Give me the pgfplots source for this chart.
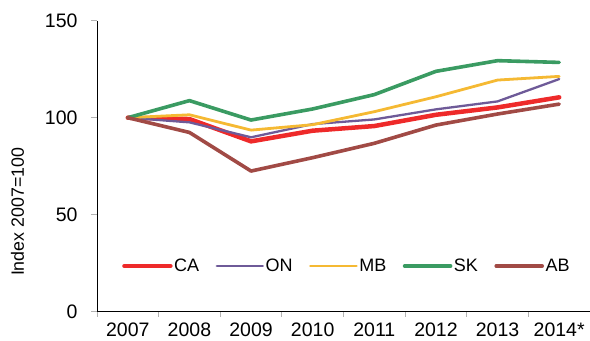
\documentclass[border=0pt]{standalone}
\usepackage{fontspec}
\setmainfont{Liberation Sans}
\usepackage{pgfplots}
\pgfplotsset{compat=1.18}
\definecolor{caR}{HTML}{EE2A2A}
\definecolor{onP}{HTML}{6E5A98}
\definecolor{mbY}{HTML}{F5B933}
\definecolor{skG}{HTML}{3A9B62}
\definecolor{abB}{HTML}{A14A45}
\begin{document}
\begin{tikzpicture}
\path[use as bounding box] (-97bp,-29.3bp) rectangle (493bp,311.7bp);
\begin{axis}[
  at={(0,0)}, anchor=south west,
  scale only axis, width=493bp, height=291bp,
  xmin=-0.5, xmax=7.5, ymin=0, ymax=150,
  axis x line=bottom, axis y line=left,
  axis line style={-, black, line width=0.9bp},
  xtick={0,...,7},
  xticklabels={2007,2008,2009,2010,2011,2012,2013,2014*},
  x tick style={draw=none},
  extra x ticks={-0.5,0.5,1.5,2.5,3.5,4.5,5.5,6.5,7.5},
  extra x tick labels={},
  extra x tick style={x tick style={draw=gray!60, line width=0.9bp}, major tick length=5bp},
  ytick={0,50,100,150},
  y tick style={draw=gray!60, line width=1bp},
  tick align=outside, major tick length=6bp,
  /pgf/number format/assume math mode=true,
  ticklabel style={font=\fontsize{19.5bp}{23bp}\selectfont},
  yticklabel style={xshift=-10bp},
  xticklabel style={yshift=-2bp},
  ylabel={Index 2007=100},
  every axis y label/.style={at={(axis description cs:0,0.343)}, xshift=-79.5bp, rotate=90, anchor=center, font=\fontsize{17.8bp}{21bp}\selectfont},
  legend style={at={(rel axis cs:0.0507,0.157)}, anchor=west, draw=none, fill=none, inner sep=0pt,
    font=\fontsize{18bp}{21bp}\selectfont, legend columns=5,
    /tikz/every odd column/.append style={column sep=0pt},
    /tikz/every even column/.append style={column sep=15bp},
    nodes={inner xsep=1.5bp}},
  legend image code/.code={\draw[#1] (0bp,0bp) -- (46bp,0bp);},
  every axis plot/.append style={line cap=round, line join=round},
  clip=false,
]
\addplot[caR, line width=4.5bp] coordinates {(0,100) (1,99.3) (2,87.8) (3,93.3) (4,95.7) (5,101.5) (6,105.3) (7,110.5)};
\addlegendentry{CA}
\addplot[onP, line width=2.3bp] coordinates {(0,100) (1,97.6) (2,89.9) (3,96.7) (4,99.1) (5,104.3) (6,108.4) (7,119.9)};
\addlegendentry{ON}
\addplot[mbY, line width=2.8bp] coordinates {(0,100) (1,101.5) (2,93.6) (3,96.4) (4,103.1) (5,110.8) (6,119.4) (7,121.3)};
\addlegendentry{MB}
\addplot[skG, line width=3.6bp] coordinates {(0,100) (1,108.8) (2,98.8) (3,104.5) (4,111.9) (5,123.9) (6,129.4) (7,128.5)};
\addlegendentry{SK}
\addplot[abB, line width=3.6bp] coordinates {(0,100) (1,92.4) (2,72.5) (3,79.4) (4,86.8) (5,96.2) (6,101.9) (7,107.0)};
\addlegendentry{AB}
\end{axis}
\end{tikzpicture}
\end{document}
